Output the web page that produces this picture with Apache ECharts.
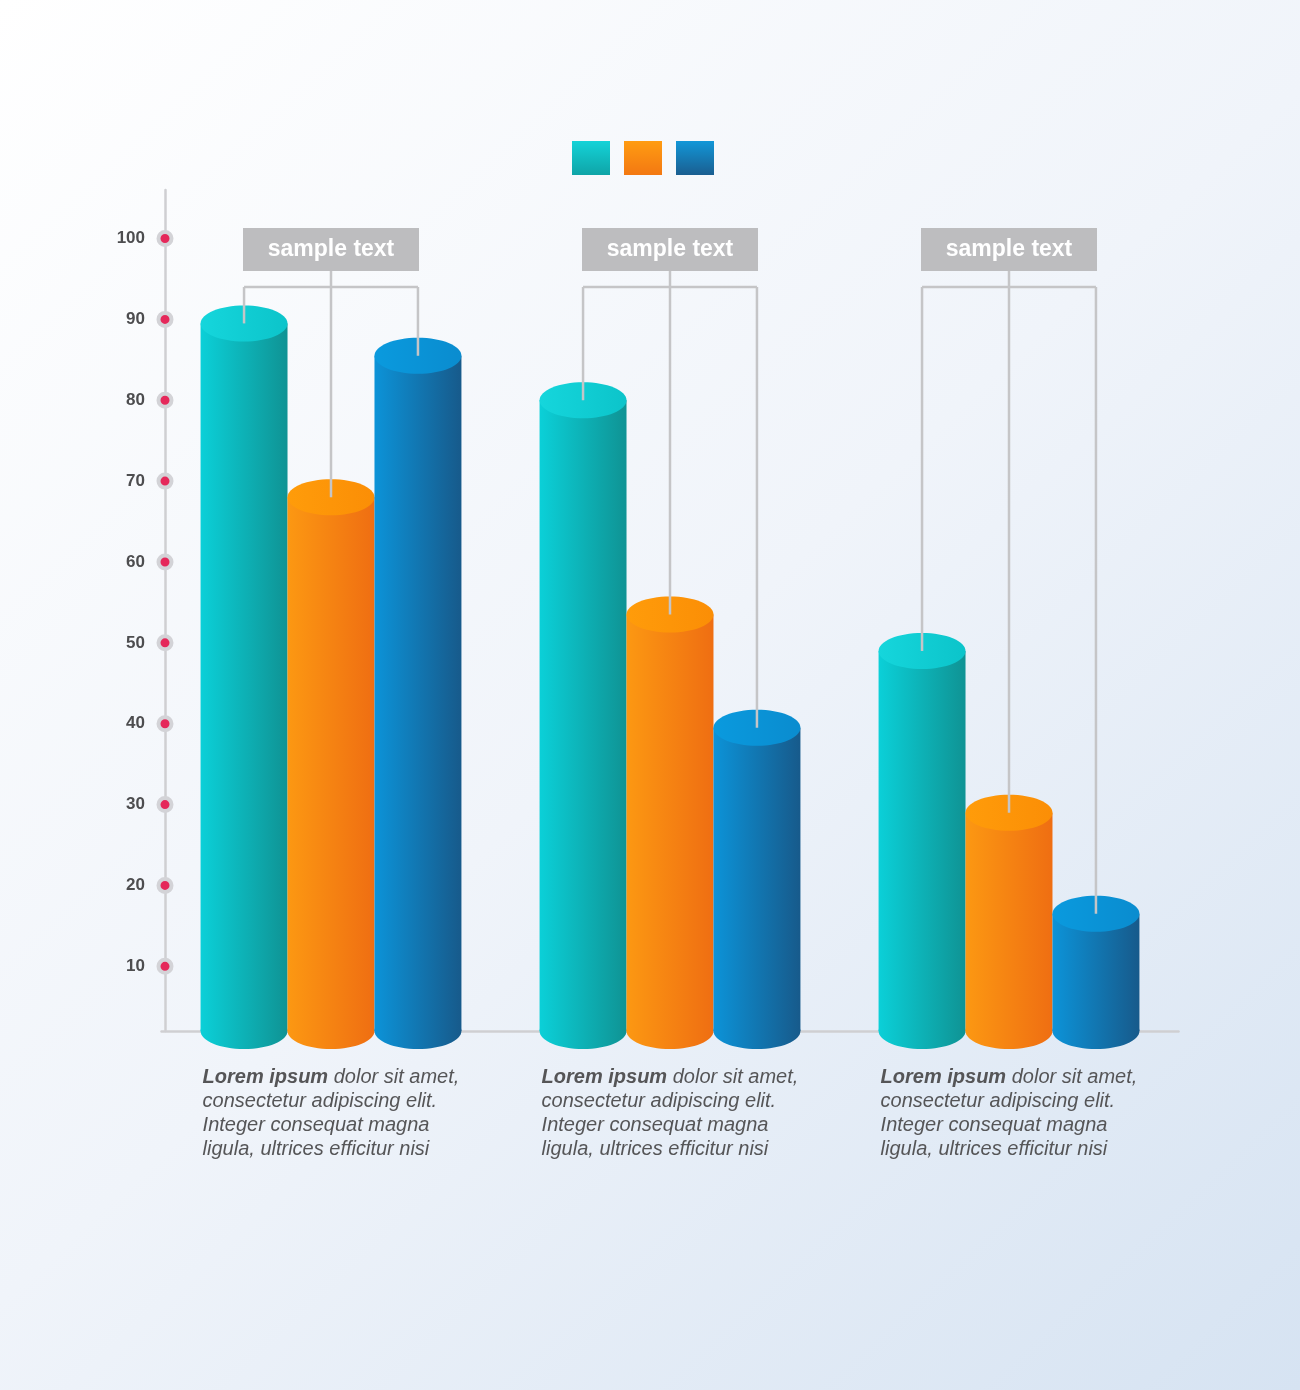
<!DOCTYPE html>
<html style="height: 100%">
<head>
   <meta charset="utf-8">
</head>
<style>
    body, html, #chart {
        width: 100%;
        height: 100%;
        margin: 0;
    }
</style>
<title>3D cylinder bars</title>
<script src="https://cdn.jsdelivr.net/npm/echarts@6/dist/echarts.min.js"></script>
<body>
   <div id="chart"></div>
   <script type="text/javascript">
    // data
    var categories = ['sample text', 'sample text', 'sample text'];
    var seriesNames = ['Series A', 'Series B', 'Series C'];
    var tealValues = [89.5, 80, 49];
    var orangeValues = [68, 53.5, 29];
    var blueValues = [85.5, 39.5, 16.5];
    var tickValues = [10, 20, 30, 40, 50, 60, 70, 80, 90, 100];
    var descBold = ['Lorem ipsum', 'Lorem ipsum', 'Lorem ipsum'];
    var descRest = [
        ' dolor sit amet,\nconsectetur adipiscing elit.\nInteger consequat magna\nligula, ultrices efficitur nisi',
        ' dolor sit amet,\nconsectetur adipiscing elit.\nInteger consequat magna\nligula, ultrices efficitur nisi',
        ' dolor sit amet,\nconsectetur adipiscing elit.\nInteger consequat magna\nligula, ultrices efficitur nisi'
    ];

    var FONT = "'Liberation Sans', Arial, sans-serif";
    var Y_MIN = 2, Y_MAX = 106;
    var AXIS_SHIFT = 3.5; // y axis sits a little right of the grid edge
    // [body left, body right, top left, top right, legend top, legend bottom]
    var palettes = [
        ['#0bd0d8', '#0f9394', '#15d6dc', '#0cc4ca', '#14d3d8', '#0fa4a7'],
        ['#fc9812', '#ef6e12', '#ff9c0a', '#fb8e06', '#ff9c12', '#f37812'],
        ['#0c93d8', '#175a8b', '#0a9ade', '#0a8ccf', '#1297d8', '#1a5e90']
    ];
    var allValues = [tealValues, orangeValues, blueValues];

    function hGrad(a, b) {
        return new echarts.graphic.LinearGradient(0, 0, 1, 0, [
            {offset: 0, color: a}, {offset: 1, color: b}
        ]);
    }
    function barWidth(api) {
        return api.size([1, 0])[0] * 0.2565;
    }

    function cylinder(slot) {
        var p = palettes[slot];
        return function (params, api) {
            var j = api.value(0), v = api.value(1);
            var top = api.coord([j, v]);
            var base = api.coord([j, Y_MIN]);
            var bw = barWidth(api);
            var cx = top[0] + (slot - 1) * bw;
            var ry = 18;
            var body = hGrad(p[0], p[1]);
            return {
                type: 'group',
                children: [
                    {type: 'ellipse', shape: {cx: cx, cy: base[1], rx: bw / 2, ry: ry}, style: {fill: body}},
                    {type: 'rect', shape: {x: cx - bw / 2, y: top[1], width: bw, height: base[1] - top[1]}, style: {fill: body}},
                    {type: 'ellipse', shape: {cx: cx, cy: top[1], rx: bw / 2, ry: ry}, style: {fill: hGrad(p[2], p[3])}}
                ]
            };
        };
    }

    function labels(params, api) {
        var j = api.value(0);
        var cs = params.coordSys;
        var bw = barWidth(api);
        var mid = api.coord([j, Y_MIN])[0];
        var tops = allValues.map(function (arr, k) {
            var c = api.coord([j, arr[j]]);
            return [mid + (k - 1) * bw, c[1]];
        });
        var boxW = 176, boxH = 43;
        var boxTop = cs.y + 38;
        var bracketY = boxTop + 59;
        var line = {stroke: '#c5c5c7', lineWidth: 2.5};
        return {
            type: 'group',
            children: [
                {type: 'rect', shape: {x: mid - boxW / 2, y: boxTop, width: boxW, height: boxH}, style: {fill: '#bdbdbf'}},
                {type: 'text', x: mid, y: boxTop + boxH / 2, style: {
                    text: categories[j], fill: '#ffffff', font: 'bold 23px ' + FONT,
                    align: 'center', verticalAlign: 'middle'
                }},
                {type: 'line', shape: {x1: tops[0][0], y1: bracketY, x2: tops[2][0], y2: bracketY}, style: line},
                {type: 'line', shape: {x1: tops[0][0], y1: bracketY, x2: tops[0][0], y2: tops[0][1]}, style: line},
                {type: 'line', shape: {x1: tops[2][0], y1: bracketY, x2: tops[2][0], y2: tops[2][1]}, style: line},
                {type: 'line', shape: {x1: mid, y1: boxTop + boxH, x2: mid, y2: tops[1][1]}, style: line},
                {type: 'text', x: tops[0][0] - bw / 2 + 2, y: cs.y + cs.height + 34, style: {
                    text: '{b|' + descBold[j] + '}' + descRest[j],
                    fill: '#555557', fontFamily: FONT, fontSize: 20, fontStyle: 'italic',
                    lineHeight: 24, align: 'left', verticalAlign: 'top',
                    rich: {b: {fill: '#555557', fontFamily: FONT, fontSize: 20, fontStyle: 'italic', fontWeight: 'bold', lineHeight: 24}}
                }}
            ]
        };
    }

    function dots(params, api) {
        var y = api.coord([0, api.value(1)])[1];
        return {
            type: 'circle',
            shape: {cx: params.coordSys.x + AXIS_SHIFT, cy: y, r: 6.5},
            style: {fill: '#e5285a', stroke: '#d3d3d7', lineWidth: 4}
        };
    }

    var chart = echarts.init(document.getElementById('chart'));
    var series = seriesNames.map(function (name, k) {
        return {
            name: name,
            type: 'custom',
            renderItem: cylinder(k),
            data: allValues[k].map(function (v, j) { return [j, v]; }),
            z: 2
        };
    });
    series.push({
        type: 'custom',
        renderItem: labels,
        data: categories.map(function (c, j) { return [j, 100]; }),
        z: 4,
        silent: true
    });
    series.push({
        type: 'custom',
        renderItem: dots,
        data: tickValues.map(function (v) { return [0, v]; }),
        z: 4,
        silent: true
    });

    var option = {
        backgroundColor: new echarts.graphic.LinearGradient(0, 0, 1, 1, [
            {offset: 0, color: '#ffffff'},
            {offset: 0.5, color: '#f0f4fa'},
            {offset: 1, color: '#d6e3f2'}
        ]),
        textStyle: {fontFamily: FONT},
        animation: false,
        legend: {
            left: 572,
            top: 141,
            padding: 0,
            icon: 'rect',
            itemWidth: 38,
            itemHeight: 34,
            itemGap: 14,
            formatter: function () { return ''; },
            data: seriesNames.map(function (n, k) {
                return {
                    name: n,
                    itemStyle: {color: new echarts.graphic.LinearGradient(0, 0, 0, 1, [
                        {offset: 0, color: palettes[k][4]}, {offset: 1, color: palettes[k][5]}
                    ])}
                };
            })
        },
        grid: {left: 165 - AXIS_SHIFT, top: 190, width: 1017, height: 841},
        xAxis: {
            type: 'category',
            data: categories,
            axisLine: {lineStyle: {color: '#cfcfd2', width: 2.5}},
            axisTick: {show: false},
            axisLabel: {show: false}
        },
        yAxis: {
            type: 'value',
            min: Y_MIN,
            max: Y_MAX,
            offset: -AXIS_SHIFT,
            axisLine: {show: true, lineStyle: {color: '#cfcfd2', width: 2.5}},
            axisTick: {show: false},
            splitLine: {show: false},
            axisLabel: {
                customValues: tickValues,
                margin: 20,
                color: '#4d4d4f',
                fontWeight: 'bold',
                fontSize: 17,
                fontFamily: FONT
            }
        },
        series: series
    };
    chart.setOption(option);
    </script>
</body>
</html>
